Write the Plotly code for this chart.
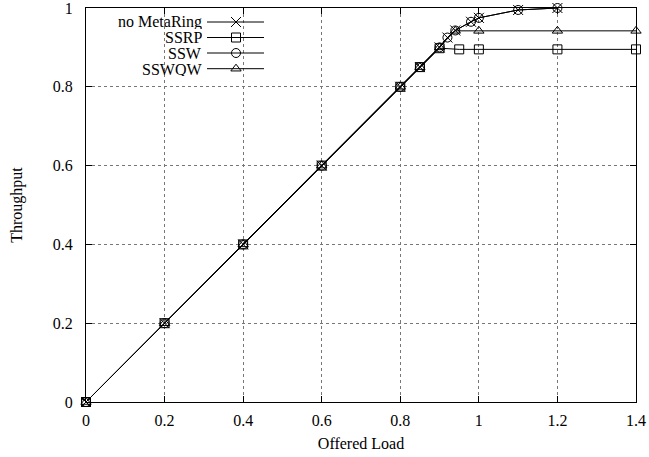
import plotly.graph_objects as go

# Offered load vs. throughput for the four ring access schemes
load_nometa = [0, 0.2, 0.4, 0.6, 0.8, 0.85, 0.9, 0.92, 0.94, 0.98, 1.0, 1.1, 1.2]
thru_nometa = [0, 0.2, 0.4, 0.6, 0.8, 0.85, 0.9, 0.925, 0.943, 0.965, 0.975, 0.995, 1.0]

load_ssrp = [0, 0.2, 0.4, 0.6, 0.8, 0.85, 0.9, 0.95, 1.0, 1.2, 1.4]
thru_ssrp = [0, 0.2, 0.4, 0.6, 0.8, 0.85, 0.898, 0.895, 0.895, 0.895, 0.895]

load_ssw = [0, 0.2, 0.4, 0.6, 0.8, 0.85, 0.9, 0.92, 0.94, 0.98, 1.0, 1.1, 1.2]
thru_ssw = [0, 0.2, 0.4, 0.6, 0.8, 0.85, 0.9, 0.925, 0.943, 0.965, 0.975, 0.995, 1.0]

load_sswqw = [0, 0.2, 0.4, 0.6, 0.8, 0.85, 0.9, 0.94, 1.0, 1.2, 1.4]
thru_sswqw = [0, 0.2, 0.4, 0.6, 0.8, 0.85, 0.9, 0.942, 0.942, 0.942, 0.942]

series_names = ["no MetaRing", "SSRP", "SSW", "SSWQW"]
x_ticks = [0, 0.2, 0.4, 0.6, 0.8, 1.0, 1.2, 1.4]
y_ticks = [0, 0.2, 0.4, 0.6, 0.8, 1.0]

FONT = "Liberation Serif, Times New Roman, serif"
FS = 16
W, H = 649, 457
L, R, T, B = 86, 13, 8, 55
PW, PH = W - L - R, H - T - B

symbols = ["x-thin-open", "square-open", "circle-open", "triangle-up-open"]
sizes = [10, 9, 9, 9]
data = [(load_nometa, thru_nometa), (load_ssrp, thru_ssrp),
        (load_ssw, thru_ssw), (load_sswqw, thru_sswqw)]

fig = go.Figure()
for (xs, ys), sym, sz in zip(data, symbols, sizes):
    fig.add_trace(go.Scatter(
        x=xs, y=ys, mode="lines+markers", showlegend=False, cliponaxis=False,
        line=dict(color="black", width=1),
        marker=dict(symbol=sym, size=sz, color="black",
                    line=dict(color="black", width=1)),
    ))

# key box drawn in the gnuplot style: label on the left, sample on the right
def px_x(p):
    return (p - L) / PW

def px_y(p):
    return (H - B - p) / PH

key_text_right = 203
key_line = (207, 264)
key_mark = 236
key_rows = [22.0, 37.5, 53.0, 68.7]

annotations = []
for name, sym, sz, row in zip(series_names, symbols, sizes, key_rows):
    annotations.append(dict(
        x=px_x(key_text_right), y=px_y(row), xref="paper", yref="paper",
        text=name, showarrow=False, xanchor="right", yanchor="middle",
        height=14, borderpad=0, valign="middle",
        font=dict(family=FONT, size=FS, color="black"),
    ))
    fig.add_trace(go.Scatter(
        x=[px_x(key_line[0]), px_x(key_line[1])], y=[px_y(row), px_y(row)],
        xaxis="x2", yaxis="y2", mode="lines", showlegend=False,
        line=dict(color="black", width=1), hoverinfo="skip",
    ))
    fig.add_trace(go.Scatter(
        x=[px_x(key_mark)], y=[px_y(row)], xaxis="x2", yaxis="y2",
        mode="markers", showlegend=False, hoverinfo="skip",
        marker=dict(symbol=sym, size=sz, color="black",
                    line=dict(color="black", width=1)),
    ))

axis_common = dict(
    showline=True, linecolor="black", linewidth=1, mirror="allticks",
    ticks="inside", ticklen=6, tickcolor="black", tickwidth=1,
    showgrid=True, gridcolor="#777777", griddash="dot", gridwidth=1,
    zeroline=False, automargin=False, ticklabeloverflow="allow",
    tickfont=dict(family=FONT, size=FS, color="black"),
)

fig.update_layout(
    width=W, height=H,
    margin=dict(l=L, r=R, t=T, b=B),
    paper_bgcolor="white", plot_bgcolor="white",
    font=dict(family=FONT, size=FS, color="black"),
    xaxis=dict(range=[0, 1.4], tickvals=x_ticks,
               ticktext=[f"{v:g}" for v in x_ticks],
               ticklabelstandoff=4,
               title=dict(text="Offered Load", standoff=9,
                          font=dict(family=FONT, size=FS)),
               **axis_common),
    yaxis=dict(range=[0, 1.0], tickvals=y_ticks,
               ticktext=[f"{v:g}" for v in y_ticks],
               ticklabelstandoff=9,
               title=dict(text="Throughput", standoff=26,
                          font=dict(family=FONT, size=FS)),
               **axis_common),
    xaxis2=dict(overlaying="x", range=[0, 1], visible=False, fixedrange=True),
    yaxis2=dict(overlaying="y", range=[0, 1], visible=False, fixedrange=True),
    annotations=annotations,
)

fig.write_html("out.html")
